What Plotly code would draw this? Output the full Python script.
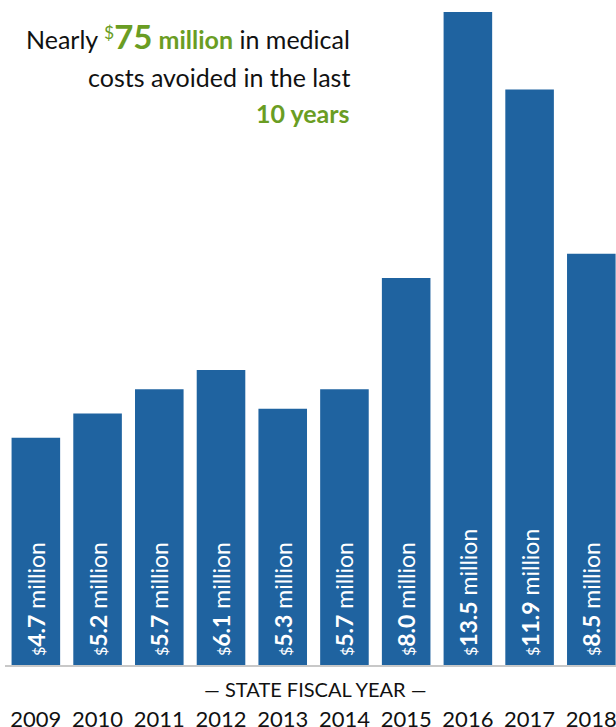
import plotly.graph_objects as go

years = ["2009", "2010", "2011", "2012", "2013", "2014", "2015", "2016", "2017", "2018"]
savings = [4.7, 5.2, 5.7, 6.1, 5.3, 5.7, 8.0, 13.5, 11.9, 8.5]
value_labels = ["4.7", "5.2", "5.7", "6.1", "5.3", "5.7", "8.0", "13.5", "11.9", "8.5"]

BLUE = "#1f63a0"
GREEN = "#6a9d23"
FONT = "Lato"

W, H = 616, 727
ML, MR, MT, MB = 5, 0, 12, 62
PW = W - ML - MR
PH = H - MT - MB

def px_x(px):
    return (px - ML) / PW

def px_y(py):
    return (H - MB - py) / PH

texts = [
    f'\u00a0<span style="font-size:16px">$</span><b><span style="font-size:23px">{v}</span></b> million'
    for v in value_labels
]

fig = go.Figure(
    go.Bar(
        x=list(range(len(years))),
        y=savings,
        marker=dict(color=BLUE, line=dict(width=0)),
        text=texts,
        textposition="inside",
        insidetextanchor="start",
        textangle=-90,
        constraintext="none",
        insidetextfont=dict(family=FONT, size=23, color="white"),
        cliponaxis=True,
        hoverinfo="skip",
    )
)

fig.update_layout(
    width=W,
    height=H,
    margin=dict(l=ML, r=MR, t=MT, b=MB, autoexpand=False),
    plot_bgcolor="white",
    paper_bgcolor="white",
    bargap=0.213,
    showlegend=False,
    font=dict(family=FONT, color="#111111"),
)

fig.update_xaxes(
    range=[-0.5, 9.4],
    tickmode="array",
    tickvals=list(range(len(years))),
    ticktext=years,
    tickfont=dict(family=FONT, size=22, color="#111111"),
    ticks="outside",
    ticklen=34,
    tickcolor="rgba(0,0,0,0)",
    ticklabeloverflow="allow",
    showline=True,
    linecolor="#c8c8c8",
    linewidth=1.5,
    showgrid=False,
    zeroline=False,
    automargin=False,
    fixedrange=True,
)
fig.update_yaxes(
    range=[0, 13.5],
    visible=False,
    showgrid=False,
    zeroline=False,
    automargin=False,
)

line1 = (
    'Nearly <span style="color:%s"><sup>$</sup><b><span style="font-size:33px">75</span> million</b></span>'
    " in medical" % GREEN
)
line2 = "costs avoided in the last"
line3 = '<b><span style="color:%s">10 years</span></b>' % GREEN

for txt, ypx in [(line1, 36), (line2, 77), (line3, 113)]:
    fig.add_annotation(
        text=txt,
        xref="paper",
        yref="paper",
        x=px_x(352),
        y=px_y(ypx),
        xanchor="right",
        yanchor="middle",
        showarrow=False,
        align="right",
        font=dict(family=FONT, size=25, color="#111111"),
    )

fig.add_annotation(
    text="— STATE FISCAL YEAR —",
    xref="paper",
    yref="paper",
    x=px_x(315),
    y=px_y(689),
    xanchor="center",
    yanchor="middle",
    showarrow=False,
    font=dict(family=FONT, size=20, color="#111111"),
)

fig.write_html(
    "out.html",
    config={"displayModeBar": False},
    post_script="document.body.style.margin='0px';document.body.style.overflow='hidden';",
)
